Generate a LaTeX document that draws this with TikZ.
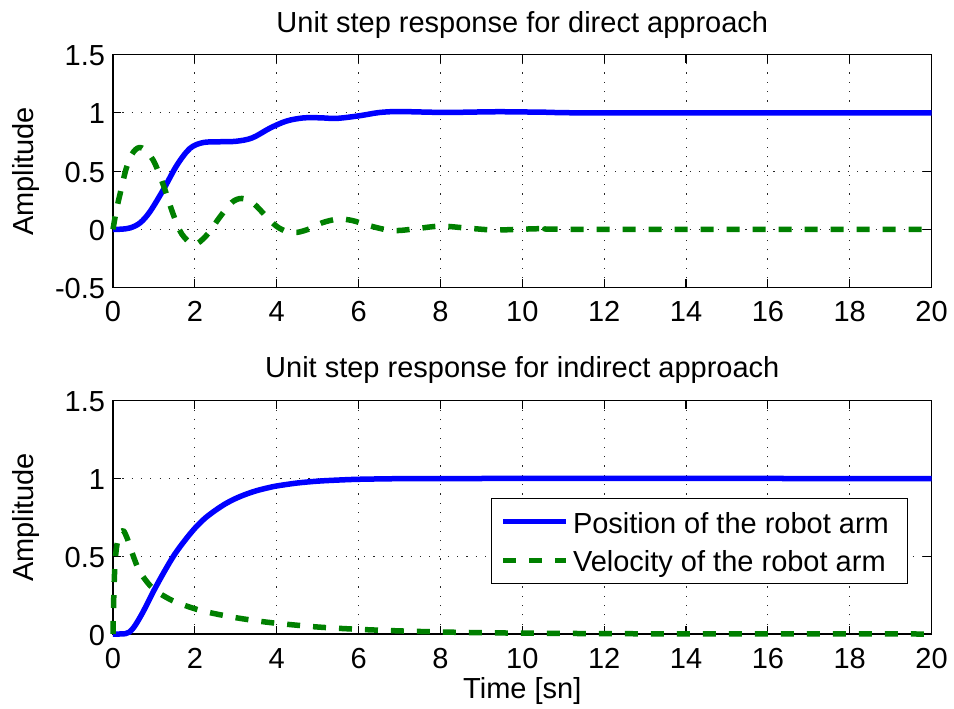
\documentclass[tikz,border=0pt]{standalone}
\usepackage{fontspec}
\setmainfont{Liberation Sans}
\definecolor{posblue}{RGB}{0,0,255}
\definecolor{velgreen}{RGB}{0,128,0}
\begin{document}
\begin{tikzpicture}[
  every node/.style={inner sep=0pt, outer sep=0pt, font=\fontsize{29bp}{34bp}\selectfont},
  axbox/.style={line width=1.1bp, black},
  gridl/.style={line width=1bp, black!85, dash pattern=on 1.2bp off 8.1bp},
  posline/.style={line width=5.5bp, posblue, line join=round},
  velline/.style={line width=5.5bp, velgreen, dash pattern=on 13bp off 13bp, line join=round},
  ticklab/.style={anchor=base},
  ylab/.style={anchor=base east},
]
\useasboundingbox (0,0) rectangle (954bp,-709bp);

% ---------------- top axes ----------------
\begin{scope}[shift={(113bp,-229.3bp)}, x=40.93bp, y=116.4bp]
  \foreach \t in {2,4,...,18} \draw[gridl] (\t,-0.5) -- (\t,1.5);
  \foreach \v in {0,0.5,1} \draw[gridl] (0,\v) -- (20,\v);
  \draw[axbox] (0,-0.5) rectangle (20,1.5);
  \foreach \t in {0,2,...,20} {
    \draw[axbox] (\t,-0.5) -- ++(0,8.2bp);
    \draw[axbox] (\t,1.5) -- ++(0,-8.2bp);
    \node[ticklab, yshift=-34.3bp] (tx\t) at (\t,-0.5) {\t};
  }
  \foreach \v/\s [count=\i] in {-0.5/-0.5, 0/0, 0.5/0.5, 1/1, 1.5/1.5} {
    \draw[axbox] (0,\v) -- ++(8.2bp,0);
    \draw[axbox] (20,\v) -- ++(-8.2bp,0);
    \node[ylab, xshift=-8bp, yshift=-11bp] (ty\i) at (0,\v) {\s};
  }
  % position (direct)
  \draw[posline] plot[smooth, tension=0.55] coordinates {
    (0,0) (0.2,0.001) (0.42,0.012) (0.66,0.055) (0.9,0.15) (1.23,0.34)
    (1.56,0.55) (1.88,0.695) (2.2,0.745) (2.6,0.752) (3.0,0.756) (3.4,0.785)
    (3.84,0.87) (4.24,0.93) (4.65,0.957) (5.05,0.958) (5.47,0.953) (6.03,0.976)
    (6.5,1.003) (6.95,1.012) (7.5,1.008) (8.2,1.004) (9.4,1.01) (10.5,1.006)
    (12,1.0) (20,1.0)};
  % velocity (direct)
  \draw[velline] plot[smooth, tension=0.55] coordinates {
    (0,0) (0.08,0.16) (0.17,0.30) (0.33,0.53) (0.5,0.665) (0.7,0.70)
    (0.98,0.595) (1.23,0.38) (1.47,0.13) (1.68,-0.04) (1.98,-0.13) (2.29,-0.05)
    (2.61,0.105) (2.9,0.23) (3.15,0.265) (3.43,0.223) (3.75,0.108) (4.0,0.025)
    (4.25,-0.02) (4.49,-0.027) (4.81,0.005) (5.1,0.055) (5.5,0.088) (5.85,0.075)
    (6.2,0.037) (6.69,-0.005) (7.0,-0.01) (7.4,0.005) (8.0,0.027) (8.6,0.012)
    (9.3,-0.006) (9.9,0.0) (10.6,0.006) (11.4,0.0) (20,0)};
\end{scope}

% ---------------- bottom axes ----------------
\begin{scope}[shift={(113bp,-634bp)}, x=40.93bp, y=155.5bp]
  \foreach \t in {2,4,...,18} \draw[gridl] (\t,0) -- (\t,1.5);
  \foreach \v in {0.5,1} \draw[gridl] (0,\v) -- (20,\v);
  \draw[axbox] (0,0) rectangle (20,1.5);
  \foreach \t in {0,2,...,20} {
    \draw[axbox] (\t,0) -- ++(0,8.2bp);
    \draw[axbox] (\t,1.5) -- ++(0,-8.2bp);
    \node[ticklab, yshift=-34.3bp] (bx\t) at (\t,0) {\t};
  }
  \foreach \v/\s [count=\i] in {0/0, 0.5/0.5, 1/1, 1.5/1.5} {
    \draw[axbox] (0,\v) -- ++(8.2bp,0);
    \draw[axbox] (20,\v) -- ++(-8.2bp,0);
    \node[ylab, xshift=-8bp, yshift=-11bp] (by\i) at (0,\v) {\s};
  }
  % position (indirect)
  \draw[posline] plot[smooth, tension=0.5] coordinates {
    (0,0) (0.15,0.0) (0.3,0.002) (0.4,0.012) (0.5,0.04) (0.6,0.08) (0.75,0.15)
    (1.0,0.28) (1.25,0.40) (1.5,0.51) (1.75,0.60) (2.0,0.68) (2.25,0.745)
    (2.5,0.795) (2.75,0.838) (3.0,0.872) (3.25,0.899) (3.5,0.921) (3.75,0.938)
    (4.0,0.952) (4.5,0.971) (5.0,0.983) (5.5,0.99) (6.0,0.995) (7.0,0.999)
    (8.0,1.0) (20,1.0)};
  % velocity (indirect)
  \draw[velline] plot[smooth, tension=0.5] coordinates {
    (0,0) (0.02,0.25) (0.05,0.46) (0.1,0.58) (0.17,0.645) (0.25,0.665)
    (0.34,0.62) (0.47,0.52) (0.6,0.43) (0.73,0.37) (1.0,0.287) (1.46,0.214)
    (2.04,0.159) (2.5,0.13) (3,0.105) (3.5,0.085) (4,0.069) (5,0.045)
    (6,0.030) (7,0.020) (8,0.013) (9,0.0085) (10,0.0055) (12,0.0024)
    (14,0.001) (20,0)};
\end{scope}

% ---------------- legend ----------------
\node[draw, line width=1bp, fill=white, minimum width=416bp, minimum height=85bp, anchor=north west] (legend) at (491bp,-498bp) {};
\coordinate (lp1) at (503bp,-521.7bp);
\coordinate (lp2) at (566bp,-521.7bp);
\coordinate (lv1) at (503bp,-560.7bp);
\coordinate (lv2) at (566bp,-560.7bp);
\draw[posline] (lp1) -- (lp2);
\draw[velline] (lv1) -- (lv2);
\node[anchor=base west] (legp) at (573bp,-533.3bp) {Position of the robot arm};
\node[anchor=base west] (legv) at (573bp,-571.7bp) {Velocity of the robot arm};

% ---------------- titles and axis labels ----------------
\node[anchor=base] (title1) at (522.3bp,-32bp) {Unit step response for direct approach};
\node[anchor=base] (title2) at (522.3bp,-377.7bp) {Unit step response for indirect approach};
\node[anchor=base] (xlabel) at (522.3bp,-698bp) {Time [sn]};
\node[anchor=base, rotate=90] (ylab1) at (33bp,-171.4bp) {Amplitude};
\node[anchor=base, rotate=90] (ylab2) at (33bp,-517.4bp) {Amplitude};
\end{tikzpicture}
\end{document}
